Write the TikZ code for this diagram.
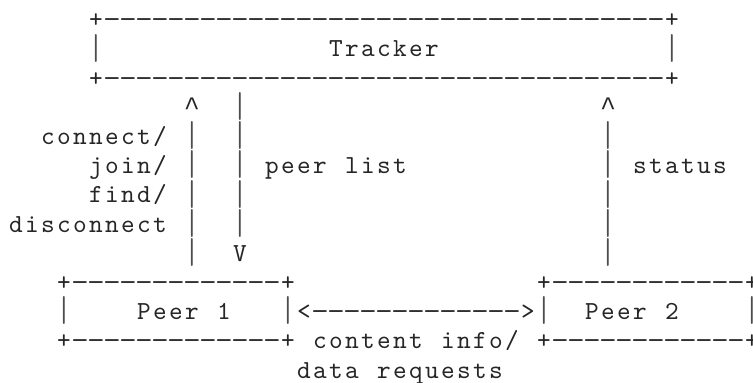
\documentclass[tikz,border=0pt]{standalone}
\usepackage{fontspec}
\newfontfamily\asciifont{lmmono10-regular.otf}
\newfontfamily\caretfont{Liberation Mono}
\tikzset{
  glyphs/.style={font=\asciifont\fontsize{26pt}{29.2pt}\selectfont,
    anchor=base west, inner sep=0pt, outer sep=0pt, text=black!85},
}
% every character sits in a fixed 16pt cell
\ExplSyntaxOn
\NewDocumentCommand\cellrun{m}{\tl_map_inline:nn {#1} {\makebox[16pt][c]{##1}}}
\ExplSyntaxOff
% a dash that fills most of its cell
\newcommand\celldash{\makebox[16pt][c]{\scalebox{1.3}[1]{-}}}
\newcommand\dashrun[1]{\foreach\k in {1,...,#1}{\celldash}}
% a bar that fills the height of its row, so stacked bars read as one line
\newcommand\cellbar{\raisebox{-5.3pt}{\resizebox*{16pt}{28pt}{\raisebox{\depth}{\makebox[16pt][c]{\color{black!70}|}}}}}
% an arrow head pointing up, a little larger than the typewriter accent
\newcommand\cellcaret{\makebox[16pt][c]{\caretfont\fontsize{26.67pt}{29.2pt}\selectfont\string^}}
% character cell grid: 16pt per column, 29.2pt per row
\newcommand\glyphat[4]{\node[glyphs] (#1) at (8pt+16pt*#2,-27.6pt-29.2pt*#3) {#4};}
\begin{document}
\begin{tikzpicture}
\fill[white] (0,0) rectangle (753pt,-383pt);
\useasboundingbox (0,0) rectangle (753pt,-383pt);

% Tracker box
\glyphat{trtop}{5}{0}{\cellrun{+}\dashrun{35}\cellrun{+}}
\glyphat{trleft}{5}{1}{\cellbar}
\glyphat{tracker}{20}{1}{\cellrun{Tracker}}
\glyphat{trright}{41}{1}{\cellbar}
\glyphat{trbot}{5}{2}{\cellrun{+}\dashrun{35}\cellrun{+}}

% arrow heads under the tracker
\glyphat{reqhead}{11}{3}{\cellcaret}
\glyphat{listtop}{14}{3}{\cellbar}
\glyphat{stathead}{37}{3}{\cellcaret}

% vertical shafts
\foreach \r in {4,...,7}{
  \glyphat{reqbar\r}{11}{\r}{\cellbar}
  \glyphat{listbar\r}{14}{\r}{\cellbar}
  \glyphat{statbar\r}{37}{\r}{\cellbar}
}
\glyphat{reqbar8}{11}{8}{\cellbar}
\glyphat{listhead}{14}{8}{\cellrun{V}}
\glyphat{statbar8}{37}{8}{\cellbar}

% labels on the shafts
\glyphat{lconnect}{2}{4}{\cellrun{connect/}}
\glyphat{ljoin}{5}{5}{\cellrun{join/}}
\glyphat{lfind}{5}{6}{\cellrun{find/}}
\glyphat{ldisconnect}{0}{7}{\cellrun{disconnect}}
\glyphat{lpeer}{16}{5}{\cellrun{peer}}
\glyphat{llist}{21}{5}{\cellrun{list}}
\glyphat{lstatus}{39}{5}{\cellrun{status}}

% Peer 1 box
\glyphat{ponetop}{3}{9}{\cellrun{+}\dashrun{13}\cellrun{+}}
\glyphat{poneleft}{3}{10}{\cellbar}
\glyphat{peerone}{8}{10}{\cellrun{Peer}}
\glyphat{peeronenum}{13}{10}{\cellrun{1}}
\glyphat{ponebot}{3}{11}{\cellrun{+}\dashrun{13}\cellrun{+}}

% link between the peers
\glyphat{peerlink}{17}{10}{\cellbar\cellrun{<}\dashrun{13}\cellrun{>}\cellbar}

% Peer 2 box
\glyphat{ptwotop}{33}{9}{\cellrun{+}\dashrun{12}\cellrun{+}}
\glyphat{peertwo}{36}{10}{\cellrun{Peer}}
\glyphat{peertwonum}{41}{10}{\cellrun{2}}
\glyphat{ptworight}{46}{10}{\cellbar}
\glyphat{ptwobot}{33}{11}{\cellrun{+}\dashrun{12}\cellrun{+}}

% link label
\glyphat{lcontent}{19}{11}{\cellrun{content}}
\glyphat{linfo}{27}{11}{\cellrun{info/}}
\glyphat{ldata}{18}{12}{\cellrun{data}}
\glyphat{lrequests}{23}{12}{\cellrun{requests}}
\end{tikzpicture}
\end{document}
